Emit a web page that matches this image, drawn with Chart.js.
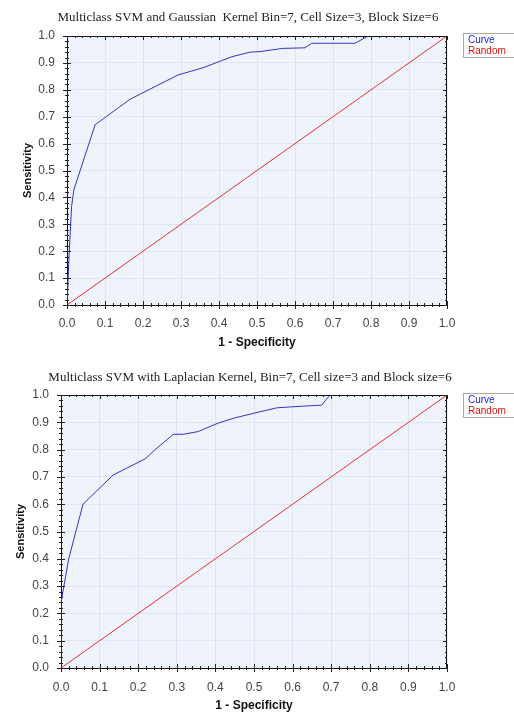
<!DOCTYPE html>
<html>
<head>
<meta charset="utf-8">
<title>ROC curves</title>
<script src="https://cdn.jsdelivr.net/npm/chart.js@4.4.1/dist/chart.umd.min.js"></script>
<style>
  html, body { margin: 0; padding: 0; background: #fff; }
  canvas { display: block; }
</style>
</head>
<body>
<canvas id="roc-gaussian" width="514" height="357"></canvas>
<canvas id="roc-laplacian" width="514" height="356"></canvas>
<script>
'use strict';

// Gaussian kernel ROC (top chart)
var gaussFpr = [0, 0.003, 0.006, 0.012, 0.018, 0.074, 0.166, 0.292, 0.358, 0.434, 0.482, 0.508, 0.568, 0.626, 0.644, 0.758, 0.792, 1.0];
var gaussTpr = [0, 0.1, 0.2, 0.365, 0.428, 0.67, 0.765, 0.855, 0.882, 0.923, 0.94, 0.942, 0.954, 0.956, 0.973, 0.973, 1.0, 1.0];

// Laplacian kernel ROC (bottom chart)
var laplaceFpr = [0, 0, 0.02, 0.057, 0.135, 0.218, 0.244, 0.291, 0.316, 0.355, 0.407, 0.45, 0.502, 0.559, 0.601, 0.675, 0.697, 1.0];
var laplaceTpr = [0, 0.24, 0.40, 0.6, 0.707, 0.766, 0.80, 0.856, 0.856, 0.866, 0.897, 0.916, 0.934, 0.953, 0.957, 0.963, 1.0, 1.0];

// diagonal reference line
var randomFpr = [0, 1];
var randomTpr = [0, 1];

var axisTicks = [0, 0.1, 0.2, 0.3, 0.4, 0.5, 0.6, 0.7, 0.8, 0.9, 1.0];
var legendLabels = ['Curve', 'Random'];

Chart.defaults.font.family = '"Liberation Sans", Arial, sans-serif';

function toPoints(xs, ys) {
  return xs.map(function(x, i) { return { x: x, y: ys[i] }; });
}

// plot background, inner ticks, top/right frame, title and boxed legend
var rocDecor = {
  id: 'rocDecor',
  beforeDraw: function(chart) {
    var area = chart.chartArea;
    var ctx = chart.ctx;
    ctx.save();
    ctx.fillStyle = '#eff3fb';
    ctx.fillRect(area.left, area.top, area.right - area.left, area.bottom - area.top);
    ctx.restore();
  },
  afterDraw: function(chart, args, opts) {
    var area = chart.chartArea;
    var ctx = chart.ctx;
    var xs = chart.scales.x;
    var ys = chart.scales.y;
    var i, p, len;

    ctx.save();
    ctx.strokeStyle = '#111';
    ctx.lineWidth = 1;
    ctx.beginPath();
    ctx.moveTo(area.left, area.top + 0.5);
    ctx.lineTo(area.right, area.top + 0.5);
    ctx.moveTo(area.right - 0.5, area.top);
    ctx.lineTo(area.right - 0.5, area.bottom);
    ctx.stroke();

    ctx.strokeStyle = '#222';
    ctx.beginPath();
    for (i = 0; i <= 50; i++) {
      len = (i % 5 === 0) ? 4 : 2;
      // x axis: ticks across the bottom line, inward at the top
      p = Math.round(xs.getPixelForValue(i / 50)) + 0.5;
      ctx.moveTo(p, area.bottom - len);
      ctx.lineTo(p, area.bottom + len);
      ctx.moveTo(p, area.top);
      ctx.lineTo(p, area.top + len);
      // y axis: ticks across the left line, inward at the right
      p = Math.round(ys.getPixelForValue(i / 50)) + 0.5;
      ctx.moveTo(area.left - len, p);
      ctx.lineTo(area.left + len, p);
      ctx.moveTo(area.right, p);
      ctx.lineTo(area.right - len, p);
    }
    ctx.stroke();

    // chart title
    ctx.font = '13px "Liberation Serif", "Times New Roman", serif';
    ctx.fillStyle = '#222';
    ctx.textAlign = 'center';
    ctx.textBaseline = 'middle';
    ctx.fillText(opts.title, opts.titleX, opts.titleY);

    // legend box
    var lx = 463;
    var ly = opts.legendTop;
    ctx.fillStyle = '#fff';
    ctx.fillRect(lx, ly, 51, 25);
    ctx.strokeStyle = '#aaa';
    ctx.strokeRect(lx + 0.5, ly + 0.5, 51, 24);
    ctx.font = '10px "Liberation Sans", Arial, sans-serif';
    ctx.textAlign = 'left';
    ctx.fillStyle = '#2222dd';
    ctx.fillText(legendLabels[0], lx + 5, ly + 7);
    ctx.fillStyle = '#dd1111';
    ctx.fillText(legendLabels[1], lx + 5, ly + 18);
    ctx.restore();
  }
};

function makeRocChart(canvasId, fpr, tpr, cfg) {
  var ctx = document.getElementById(canvasId).getContext('2d');
  return new Chart(ctx, {
    type: 'scatter',
    data: {
      datasets: [{
        label: legendLabels[0],
        data: toPoints(fpr, tpr),
        showLine: true,
        borderColor: '#3535c8',
        borderWidth: 1,
        pointRadius: 0,
        tension: 0
      }, {
        label: legendLabels[1],
        data: toPoints(randomFpr, randomTpr),
        showLine: true,
        borderColor: '#e83030',
        borderWidth: 1,
        pointRadius: 0
      }]
    },
    options: {
      responsive: false,
      animation: false,
      layout: { padding: { top: cfg.top, right: 67, bottom: 0, left: 0 } },
      plugins: {
        legend: { display: false },
        tooltip: { enabled: false },
        rocDecor: {
          title: cfg.title,
          titleX: cfg.titleX,
          titleY: cfg.titleY,
          legendTop: cfg.legendTop
        }
      },
      scales: {
        x: {
          type: 'linear',
          min: 0,
          max: 1,
          afterBuildTicks: function(scale) {
            scale.ticks = axisTicks.map(function(v) { return { value: v }; });
          },
          afterFit: function(scale) { scale.height = cfg.xHeight; },
          ticks: {
            color: '#444',
            font: { size: 12 },
            padding: cfg.xTickPad,
            maxRotation: 0,
            callback: function(v) { return v.toFixed(1); }
          },
          grid: { color: 'rgba(190,200,225,0.3)', drawTicks: false },
          border: { display: true, color: '#111', width: 1 },
          title: {
            display: true,
            text: '1 - Specificity',
            color: '#111',
            font: { size: 12, weight: 'bold' },
            padding: { top: 0, bottom: cfg.xTitlePad }
          }
        },
        y: {
          type: 'linear',
          min: 0,
          max: 1,
          afterBuildTicks: function(scale) {
            scale.ticks = axisTicks.map(function(v) { return { value: v }; });
          },
          afterFit: function(scale) { scale.width = cfg.left; },
          ticks: {
            color: '#444',
            font: { size: 12 },
            padding: 12,
            callback: function(v) { return v.toFixed(1); }
          },
          grid: { color: 'rgba(190,200,225,0.3)', drawTicks: false },
          border: { display: true, color: '#111', width: 1 },
          title: {
            display: true,
            text: 'Sensitivity',
            color: '#111',
            font: { size: 11, weight: 'bold' },
            padding: { top: cfg.yTitlePad, bottom: 0 }
          }
        }
      }
    },
    plugins: [rocDecor]
  });
}

makeRocChart('roc-gaussian', gaussFpr, gaussTpr, {
  title: 'Multiclass SVM and Gaussian  Kernel Bin=7, Cell Size=3, Block Size=6',
  titleX: 248, titleY: 18,
  top: 36, left: 67, xHeight: 52,
  xTickPad: 11, xTitlePad: 7, yTitlePad: 21,
  legendTop: 33
});

makeRocChart('roc-laplacian', laplaceFpr, laplaceTpr, {
  title: 'Multiclass SVM with Laplacian Kernel, Bin=7, Cell size=3 and Block size=6',
  titleX: 250, titleY: 21,
  top: 38, left: 61, xHeight: 45,
  xTickPad: 12, xTitlePad: 0, yTitlePad: 14,
  legendTop: 36
});
</script>
</body>
</html>
